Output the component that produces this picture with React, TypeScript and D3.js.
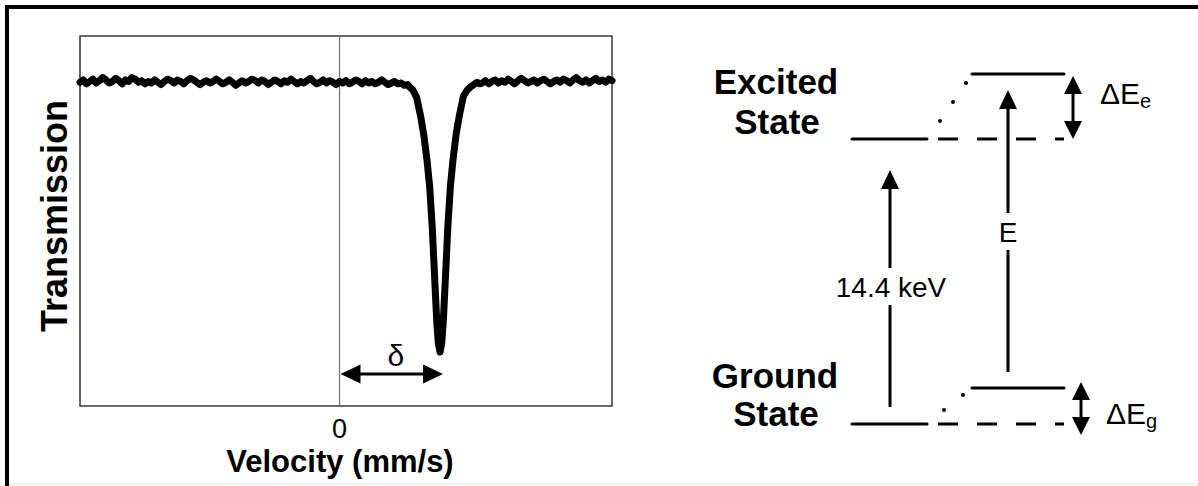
import React from 'react';
import * as d3 from 'd3';

const W = 1198;
const H = 486;

// Mössbauer absorption spectrum (single line), velocity in mm/s.
// Off-resonance channels are evenly spaced; the resonance line is sampled more finely.
const leftChannels = { start: -4.0, step: 0.05 };
const leftTransmission = [
  1.0, 1.003, 0.998, 1.001, 1.004, 0.999, 1.002, 1.006, 1.003, 0.999,
  1.001, 1.005, 1.002, 0.998, 1.003, 1.001, 1.006, 1.004, 1.0, 1.002,
  0.998, 1.001, 0.999, 1.003, 1.0, 0.997, 1.001, 1.004, 1.002, 0.999,
  1.003, 1.001, 0.998, 1.002, 1.005, 1.003, 1.0, 0.997, 1.0, 1.002,
  0.999, 1.001, 1.004, 1.001, 0.998, 1.0, 1.003, 1.0, 0.996, 0.999,
  1.002, 0.999, 1.001, 1.004, 1.002, 0.999, 1.003, 1.001, 0.997, 1.0,
  1.003, 1.001, 0.998, 1.002, 1.0, 1.004, 1.001, 0.998, 1.001, 0.999,
  1.002, 1.005, 1.001, 0.998, 1.0, 1.003, 0.999, 1.002, 1.0, 0.997,
  1.001, 0.999, 1.002, 0.998, 1.0, 1.003, 1.001, 0.998, 1.002, 0.999,
  1.001, 0.998, 1.0, 1.003, 1.0, 0.997, 0.999, 1.001, 0.998,
];

const lineVelocity = [
  0.95, 1.0, 1.05, 1.09, 1.13, 1.19, 1.25, 1.3, 1.35, 1.39, 1.43, 1.47, 1.5, 1.525,
  1.55,
  1.575, 1.6, 1.63, 1.67, 1.71, 1.75, 1.8, 1.85, 1.91, 1.97, 2.02, 2.07, 2.12, 2.16,
];
const lineTransmission = [
  0.999, 0.996, 0.997, 0.993, 0.99, 0.98, 0.956, 0.931, 0.898, 0.864, 0.811, 0.74, 0.688, 0.66,
  0.65,
  0.661, 0.69, 0.742, 0.813, 0.866, 0.9, 0.934, 0.958, 0.982, 0.99, 0.994, 0.997, 1.0, 0.998,
];

const rightChannels = { start: 2.2, step: 0.05 };
const rightTransmission = [
  0.999, 1.002, 0.998, 1.001, 1.003, 0.999, 1.002, 1.0, 1.004, 1.001,
  0.998, 1.002, 1.005, 1.002, 0.999, 1.001, 1.003, 0.999, 1.002, 1.004,
  1.001, 0.998, 1.001, 1.003, 1.0, 1.004, 1.002, 0.999, 1.003, 1.006,
  1.002, 1.0, 1.003, 0.999, 1.002, 1.005, 1.001, 1.003, 1.0, 1.004,
  1.002,
];

const velocityDomain: [number, number] = [-4.0, 4.2];
const transmissionDomain: [number, number] = [0.58, 1.06];
const velocityTicks = [0];
const isomerShift = 1.55;

const FONT = '"Liberation Sans", Arial, Helvetica, sans-serif';

// plot frame
const plot = { left: 80, right: 612, top: 36, bottom: 406 };

type Pt = [number, number];

function headPath(tip: Pt, from: Pt, len = 19, half = 9): string {
  const dx = tip[0] - from[0];
  const dy = tip[1] - from[1];
  const d = Math.hypot(dx, dy) || 1;
  const ux = dx / d;
  const uy = dy / d;
  const bx = tip[0] - ux * len;
  const by = tip[1] - uy * len;
  const px = -uy * half;
  const py = ux * half;
  return `M${tip[0]},${tip[1]}L${bx + px},${by + py}L${bx - px},${by - py}Z`;
}

function Arrow({ from, to, both = false, width = 3, len = 19, half = 9 }: { from: Pt; to: Pt; both?: boolean; width?: number; len?: number; half?: number }) {
  const d = Math.hypot(to[0] - from[0], to[1] - from[1]);
  const ux = (to[0] - from[0]) / d;
  const uy = (to[1] - from[1]) / d;
  const end: Pt = [to[0] - ux * (len - 2), to[1] - uy * (len - 2)];
  const start: Pt = both ? [from[0] + ux * (len - 2), from[1] + uy * (len - 2)] : from;
  return (
    <g>
      <line x1={start[0]} y1={start[1]} x2={end[0]} y2={end[1]} stroke="#000" strokeWidth={width} />
      <path d={headPath(to, from, len, half)} fill="#000" />
      {both && <path d={headPath(from, to, len, half)} fill="#000" />}
    </g>
  );
}

function spectrumPoints(): Pt[] {
  const left: Pt[] = leftTransmission.map((t, i) => [leftChannels.start + i * leftChannels.step, t]);
  const mid: Pt[] = lineVelocity.map((v, i) => [v, lineTransmission[i]]);
  const right: Pt[] = rightTransmission.map((t, i) => [rightChannels.start + i * rightChannels.step, t]);
  return [...left, ...mid, ...right];
}

function Spectrum() {
  const x = d3.scaleLinear().domain(velocityDomain).range([plot.left, plot.right]);
  const y = d3.scaleLinear().domain(transmissionDomain).range([plot.bottom, plot.top]);
  const line = d3
    .line<Pt>()
    .x((d) => x(d[0]))
    .y((d) => y(d[1]))
    .curve(d3.curveLinear);
  const zeroX = x(0);
  const shiftX = x(isomerShift);
  const arrowY = 374;
  return (
    <g>
      <rect
        x={plot.left}
        y={plot.top}
        width={plot.right - plot.left}
        height={plot.bottom - plot.top}
        fill="none"
        stroke="#444"
        strokeWidth={1.6}
      />
      <line x1={zeroX} x2={zeroX} y1={plot.top} y2={plot.bottom} stroke="#777" strokeWidth={1.3} />
      <path d={line(spectrumPoints()) || ''} fill="none" stroke="#000" strokeWidth={7} strokeLinejoin="round" strokeLinecap="round" />
      {velocityTicks.map((t) => (
        <text key={t} x={x(t)} y={438} textAnchor="middle" fontFamily={FONT} fontSize={27} fill="#000">
          {t}
        </text>
      ))}
      <Arrow from={[zeroX + 1, arrowY]} to={[shiftX + 3, arrowY]} both len={20} half={9.5} />
      <text x={(zeroX + shiftX) / 2 + 6} y={366} textAnchor="middle" fontFamily={FONT} fontSize={30} fill="#000">
        δ
      </text>
      <text x={340} y={472} textAnchor="middle" fontFamily={FONT} fontSize={31} fontWeight="bold" fill="#000">
        Velocity (mm/s)
      </text>
      <text
        transform={`translate(67, 216) rotate(-90)`}
        textAnchor="middle"
        fontFamily={FONT}
        fontSize={36}
        fontWeight="bold"
        fill="#000"
      >
        Transmission
      </text>
    </g>
  );
}

function LevelDiagram() {
  const exc = { base: 139, split: 74 };
  const gnd = { base: 424, split: 388 };
  const solidX: [number, number] = [852, 927];
  const dashX: [number, number] = [938, 1064];
  const upperX: [number, number] = [972, 1064];
  const label = { fontFamily: FONT, fontSize: 35, fontWeight: 'bold' as const, fill: '#000', textAnchor: 'middle' as const };
  const reg = { fontFamily: FONT, fontSize: 28, fill: '#000' };
  return (
    <g>
      <text x={776} y={94} {...label}>Excited</text>
      <text x={777} y={134} {...label}>State</text>
      <text x={775} y={388} {...label}>Ground</text>
      <text x={776} y={426} {...label}>State</text>

      {[exc, gnd].map((lv, i) => (
        <g key={i}>
          <line x1={solidX[0]} x2={solidX[1]} y1={lv.base} y2={lv.base} stroke="#000" strokeWidth={3} strokeLinecap="round" />
          <line x1={dashX[0]} x2={dashX[1]} y1={lv.base} y2={lv.base} stroke="#000" strokeWidth={3} strokeDasharray="20 19" />
          <line x1={upperX[0]} x2={upperX[1]} y1={lv.split} y2={lv.split} stroke="#000" strokeWidth={3} strokeLinecap="round" />
        </g>
      ))}
      {/* dotted connectors to the split levels */}
      {[[940, 121], [953, 102], [966, 83], [944, 410], [963, 395]].map(([cx, cy], i) => (
        <circle key={i} cx={cx} cy={cy} r={2} fill="#000" />
      ))}

      {/* 14.4 keV transition */}
      <line x1={890} x2={890} y1={407} y2={305} stroke="#000" strokeWidth={3} />
      <Arrow from={[890, 268]} to={[890, 170]} len={19} half={9} />
      <text x={891} y={297} textAnchor="middle" {...reg}>14.4 keV</text>

      {/* shifted transition E */}
      <line x1={1008} x2={1008} y1={372} y2={250} stroke="#000" strokeWidth={3} />
      <Arrow from={[1008, 213]} to={[1008, 90]} len={19} half={9} />
      <text x={1008} y={242} textAnchor="middle" {...reg}>E</text>

      {/* level shifts */}
      <Arrow from={[1073, 76]} to={[1073, 139]} both len={18} half={9} />
      <Arrow from={[1081, 382]} to={[1081, 435]} both len={18} half={9} />
      <text x={1100} y={104} {...reg} fontSize={30}>
        ΔE<tspan fontSize={20} dy={4}>e</tspan>
      </text>
      <text x={1106} y={424} {...reg} fontSize={30}>
        ΔE<tspan fontSize={20} dy={4}>g</tspan>
      </text>
    </g>
  );
}

export default function App() {
  return (
    <svg
      width={W}
      height={H}
      viewBox={`0 0 ${W} ${H}`}
      style={{ position: 'absolute', left: 0, top: 0, background: '#fff' }}
    >
      <rect x={0} y={0} width={W} height={H} fill="#fff" />
      {/* outer frame */}
      <line x1={7} x2={W} y1={7} y2={7} stroke="#000" strokeWidth={4} />
      <line x1={7} x2={7} y1={5} y2={H} stroke="#000" strokeWidth={4} />
      <line x1={9} x2={W} y1={484} y2={484} stroke="#ddd" strokeWidth={1} />
      <Spectrum />
      <LevelDiagram />
    </svg>
  );
}
